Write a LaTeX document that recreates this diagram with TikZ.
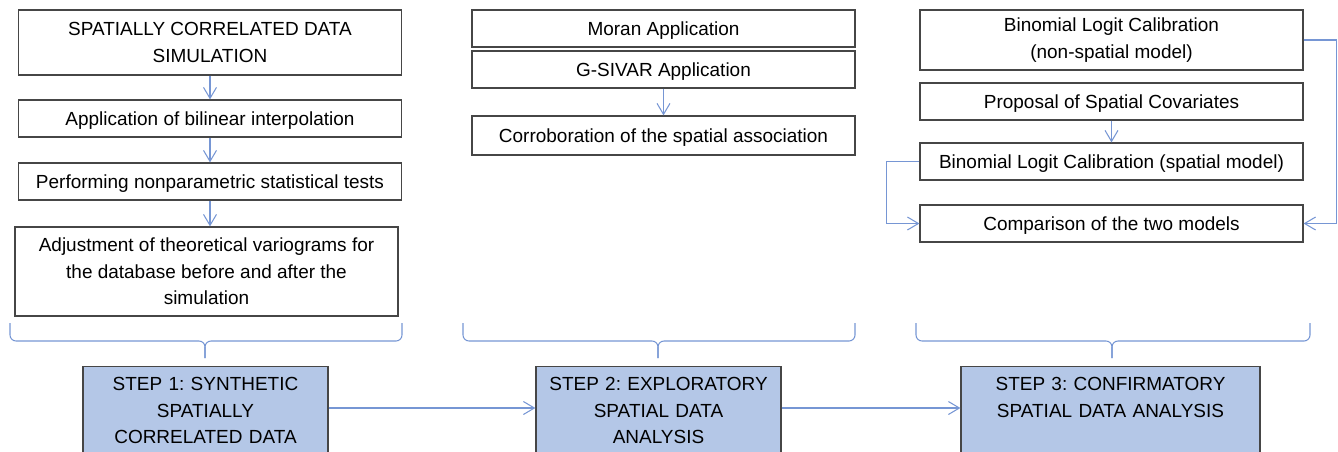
\documentclass[tikz,border=0pt]{standalone}
\usepackage{fontspec}
\setmainfont{Liberation Sans}
\usetikzlibrary{arrows.meta,positioning}
\definecolor{linkblue}{RGB}{118,150,212}
\definecolor{stepfill}{RGB}{180,199,231}
\definecolor{boxline}{RGB}{70,70,70}
\frenchspacing

\begin{document}
\begin{tikzpicture}[
    x=0.02cm, y=-0.02cm,
    every node/.style={align=center, font=\fontsize{10.8}{15}\selectfont},
    taskbox/.style={rectangle, draw=boxline, line width=0.7pt,
                    minimum width=7.66cm, minimum height=0.74cm, inner sep=2pt},
    linebox/.style={taskbox, text height=9.5pt, text depth=1pt},
    stepbox/.style={rectangle, draw=boxline, line width=0.7pt, fill=stepfill,
                    text width=4.6cm, minimum width=4.9cm, inner xsep=2pt,
                    inner ysep=0.22cm, anchor=north},
    arr/.style={-{Straight Barb[length=2.2mm,width=2.6mm]}, draw=linkblue, line width=0.6pt},
    bracket/.style={draw=linkblue, line width=0.6pt, rounded corners=1.2mm}
  ]
  \useasboundingbox (0,0) rectangle (1338,451);

  \node[taskbox, minimum height=1.3cm] (b1) at (210, 42.5)
    {SPATIALLY CORRELATED DATA\\SIMULATION};
  \node[linebox] (b2) at (210, 118.5) {Application of bilinear interpolation};
  \node[linebox] (b3) at (210, 181.5) {Performing nonparametric statistical tests};
  \node[taskbox, minimum height=1.78cm] (b4) at (206.5, 271.5)
    {Adjustment of theoretical variograms for\\
     the database before and after the\\
     simulation};

  \node[linebox] (m1) at (663.5, 28.5) {Moran Application};
  \node[linebox] (m2) at (663.5, 69.5) {G-SIVAR Application};
  \node[linebox, minimum height=0.78cm] (m3) at (663.5, 135.5)
    {Corroboration of the spatial association};

  \node[taskbox, minimum height=1.2cm] (r1) at (1111.5, 40)
    {Binomial Logit Calibration\\(non-spatial model)};
  \node[linebox] (r2) at (1111.5, 101.5) {Proposal of Spatial Covariates};
  \node[linebox] (r3) at (1111.5, 161.5) {Binomial Logit Calibration (spatial model)};
  \node[linebox] (r4) at (1111.5, 223.5) {Comparison of the two models};

  \node[stepbox] (s1) at (205.5, 366)
    {STEP 1: SYNTHETIC\\SPATIALLY\\CORRELATED DATA};
  \node[stepbox] (s2) at (658.5, 366)
    {STEP 2: EXPLORATORY\\SPATIAL DATA\\ANALYSIS};
  \node[stepbox, text width=5.7cm, minimum width=5.98cm, text depth=1.2cm] (s3)
    at (1110.5, 366) {STEP 3: CONFIRMATORY\\SPATIAL DATA ANALYSIS};

  \draw[arr] (b1.south) -- (b2.north);
  \draw[arr] (b2.south) -- (b3.north);
  \draw[arr] (b3.south) -- (b3.south |- b4.north);
  \draw[arr] (m2.south) -- (m3.north);
  \draw[arr] (r2.south) -- (r3.north);
  \draw[arr] (r1.east) -- ++(33,0) |- (r4.east);
  \draw[arr] (r3.west) -- ++(-33,0) |- (r4.west);

  % braces under each column
  \draw[bracket] (10,323) |- (205,341) -- (205,358);
  \draw[bracket] (402,323) |- (205,341) -- (205,358);
  \draw[bracket] (463,323) |- (658,341) -- (658,358);
  \draw[bracket] (855,323) |- (658,341) -- (658,358);
  \draw[bracket] (916,323) |- (1112,341) -- (1112,358);
  \draw[bracket] (1310,323) |- (1112,341) -- (1112,358);

  \draw[arr] (s1.east |- 0,408) -- (s2.west |- 0,408);
  \draw[arr] (s2.east |- 0,408) -- (s3.west |- 0,408);
\end{tikzpicture}
\end{document}
